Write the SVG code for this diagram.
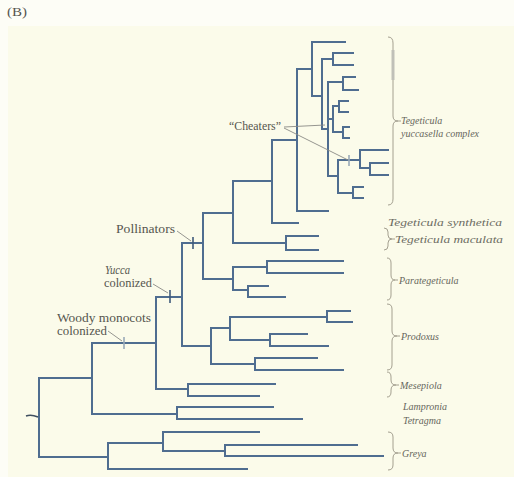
<svg xmlns="http://www.w3.org/2000/svg" width="514" height="477" viewBox="0 0 514 477">
<style>
.bg{fill:#fbfbea}
.br{fill:none;stroke:#4f6d90;stroke-width:2;stroke-linecap:square}
.tick{stroke:#3f5a7a;stroke-width:1.6}
.tickl{stroke:#9aaab8;stroke-width:1.6}
.ann{fill:none;stroke:#8a8a86;stroke-width:0.9}
.brace{fill:none;stroke:#9a9586;stroke-width:0.9}
.lab{font-family:"Liberation Serif",serif;font-size:12px;fill:#55554e}
.tax{font-family:"Liberation Serif",serif;font-size:10px;font-style:italic;fill:#66665c}
.big{font-family:"Liberation Serif",serif;font-size:10.5px;font-style:italic;fill:#6c6c62}
</style>
<rect width="514" height="477" fill="#fdfdf6"/>
<rect x="8" y="26" width="506" height="451" class="bg"/>
<text x="7" y="16" class="lab" font-size="10" textLength="20" lengthAdjust="spacingAndGlyphs">(B)</text>

<g id="connectors">
<path class="br" d="M39,378V457 M39,378H92 M39,457H108
M92,343V414 M92,343H156 M92,414H177
M177,407V419 M177,407H273 M177,419H302
M108,443V469 M108,443H163 M108,469H247
M163,432V451 M163,432H259 M163,451H225
M225,445V456 M225,445H357 M225,456H383
M156,297V389 M156,297H182 M156,389H188
M188,384V396 M188,384H275 M188,396H259
M182,243V346 M182,243H203 M182,346H211
M211,328V364 M211,328H230 M211,364H255
M230,317V340 M230,317H327 M230,340H270
M327,311V322 M327,311H350 M327,322H352
M270,334V346 M270,334H307 M270,346H328
M255,358V370 M255,358H317 M255,370H343
M203,213V279 M203,213H233 M203,279H233
M233,267V290 M233,267H267 M233,290H248
M267,261V273 M267,261H343 M267,273H343
M248,286V297 M248,286H268 M248,297H285
M233,181V243 M233,181H272 M233,243H286
M286,236V250 M286,236H318 M286,250H318
M272,140V223 M272,140H297 M272,223H298
M297,69V211 M297,69H312 M297,211H328
M312,42V96 M312,42H345 M312,96H322
M322,59V129 M322,59H333 M322,129H328
M333,53V65 M333,53H353 M333,65H353
M328,82V176 M328,82H343 M328,119H333 M328,176H338
M343,77V90 M343,77H355 M343,90H358
M333,106V132 M333,106H339 M333,132H343
M339,101V112 M339,101H348 M339,112H348
M343,127V138 M343,127H349 M343,138H349
M338,160V193 M338,160H360 M338,193H353
M360,150V168 M360,150H388 M360,168H370
M370,163V175 M370,163H388 M370,175H388
M353,187V198 M353,187H363 M353,198H363"/>
<path d="M26,416 Q31,414 38,417" fill="none" stroke="#3f4f60" stroke-width="1.4"/>
</g>

<g id="events">
<line class="tickl" x1="124" y1="337" x2="124" y2="349"/>
<line class="tick" x1="170" y1="290" x2="170" y2="303"/>
<line class="tick" x1="193" y1="237" x2="193" y2="249"/>
<line class="tickl" x1="349" y1="155" x2="349" y2="166"/>
<path class="ann" d="M108,331 L122,341 M153,284 L168,293 M177,231 L191,241 M284,127 L325,125 M284,128 L348,160"/>
</g>

<g id="labels-left">
<text x="57" y="322" class="lab" textLength="94" lengthAdjust="spacingAndGlyphs">Woody monocots</text>
<text x="57" y="335" class="lab" textLength="50" lengthAdjust="spacingAndGlyphs">colonized</text>
<text x="105" y="274" class="lab" font-size="11" font-style="italic" textLength="25" lengthAdjust="spacingAndGlyphs">Yucca</text>
<text x="104" y="287" class="lab" font-size="11.5" textLength="48" lengthAdjust="spacingAndGlyphs">colonized</text>
<text x="116" y="233" class="lab" textLength="59" lengthAdjust="spacingAndGlyphs">Pollinators</text>
<text x="229" y="130" class="lab" textLength="52" lengthAdjust="spacingAndGlyphs">“Cheaters”</text>
</g>

<g id="braces">
<path class="brace" d="M388,37 Q393,37 393,43 V116 Q393,121 398,121 H401 M398,121 Q393,121 393,126 V199 Q393,205 388,205"/>
<line x1="393" y1="50" x2="393" y2="80" stroke="#c0c0b8" stroke-width="3"/>
<path class="brace" d="M384,228 Q388,228 388,232 V235 Q388,239 392,239 H395 M392,239 Q388,239 388,243 V246 Q388,250 384,250"/>
<path class="brace" d="M387,258 Q391,258 391,263 V275 Q391,280 395,280 H398 M395,280 Q391,280 391,285 V295 Q391,300 387,300"/>
<path class="brace" d="M387,304 Q392,304 392,309 V331 Q392,336 397,336 H400 M397,336 Q392,336 392,341 V365 Q392,370 387,370"/>
<path class="brace" d="M387,372 Q391,372 391,377 V380 Q391,385 396,385 H399 M396,385 Q391,385 391,390 V392 Q391,397 387,397"/>
<path class="brace" d="M388,432 Q393,432 393,437 V448 Q393,453 398,453 H401 M398,453 Q393,453 393,458 V465 Q393,470 388,470"/>
</g>

<g id="labels-right">
<text x="401" y="124" class="tax">Tegeticula</text>
<text x="401" y="137" class="tax">yuccasella complex</text>
<text x="388" y="226" class="big" textLength="114" lengthAdjust="spacingAndGlyphs">Tegeticula synthetica</text>
<text x="395" y="243" class="big" textLength="108" lengthAdjust="spacingAndGlyphs">Tegeticula maculata</text>
<text x="399" y="284" class="tax">Parategeticula</text>
<text x="401" y="340" class="tax">Prodoxus</text>
<text x="400" y="389" class="tax">Mesepiola</text>
<text x="403" y="410" class="tax">Lampronia</text>
<text x="403" y="424" class="tax">Tetragma</text>
<text x="402" y="457" class="tax">Greya</text>
</g>
</svg>
